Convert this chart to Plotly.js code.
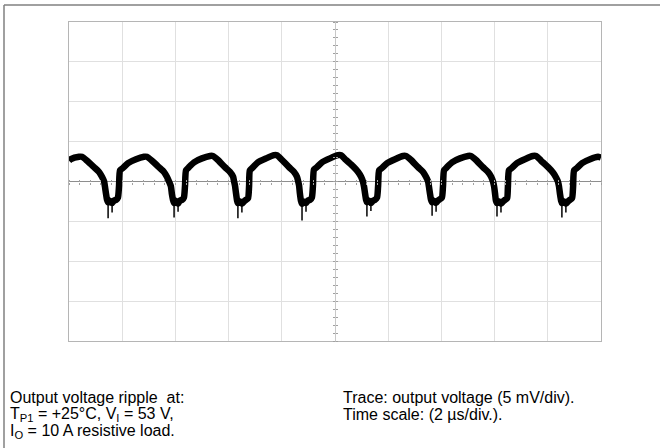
<!DOCTYPE html>
<html>
<head>
<meta charset="utf-8">
<script src="https://cdn.plot.ly/plotly-3.0.1.min.js"></script>
<style>html,body{margin:0;padding:0;background:#fff;}#chart{width:660px;height:448px;}</style>
</head>
<body>
<div id="chart"></div>
<script>
// Time (µs, 2 µs/div, trigger at centre) and output ripple (mV, 5 mV/div)
var time_us = [
-10.00,-9.93,-9.62,-9.51,-9.32,-9.06,-8.87,-8.76,-8.68,
-8.65,-8.61,-8.57,-8.53,-8.46,-8.38,-8.31,-8.23,-8.16,-8.12,-8.08,-7.97,-7.78,-7.48,-7.18,-7.07,-6.88,-6.62,-6.43,-6.32,-6.24,
-6.17,-6.13,-6.09,-6.05,-5.98,-5.90,-5.83,-5.75,-5.68,-5.64,-5.60,-5.49,-5.30,-5.00,-4.70,-4.59,-4.40,-4.14,-3.95,-3.83,-3.80,
-3.76,-3.72,-3.68,-3.65,-3.57,-3.50,-3.42,-3.35,-3.27,-3.23,-3.20,-3.08,-2.90,-2.59,-2.29,-2.18,-1.99,-1.73,-1.54,-1.43,-1.39,
-1.35,-1.32,-1.28,-1.24,-1.17,-1.09,-1.02,-0.94,-0.87,-0.83,-0.79,-0.68,-0.49,-0.19,0.11,0.23,0.41,0.68,0.87,0.98,1.05,
1.09,1.13,1.17,1.20,1.28,1.35,1.43,1.50,1.58,1.62,1.66,1.77,1.96,2.26,2.56,2.67,2.86,3.12,3.31,3.42,3.50,
3.53,3.57,3.61,3.65,3.72,3.80,3.87,3.95,4.02,4.06,4.10,4.21,4.40,4.70,5.00,5.11,5.30,5.56,5.75,5.87,5.94,
5.98,6.02,6.05,6.09,6.17,6.24,6.32,6.39,6.47,6.50,6.54,6.65,6.84,7.14,7.44,7.56,7.75,8.01,8.20,8.31,8.38,
8.42,8.46,8.50,8.53,8.61,8.68,8.76,8.83,8.91,8.95,8.99,9.10,9.29,9.59,9.89,10.00];
var ripple_mV = [
2.6,2.8,3.1,3.1,2.6,1.8,1.2,0.6,0.0,
-0.6,-1.5,-2.3,-2.6,-2.4,-2.7,-2.4,-2.3,-2.0,-0.6,1.4,1.7,2.3,2.8,3.1,3.1,2.6,1.8,1.2,0.6,0.0,
-0.6,-1.6,-2.3,-2.7,-2.4,-2.8,-2.4,-2.3,-2.0,-0.6,1.4,1.8,2.4,2.9,3.2,3.2,2.7,1.8,1.2,0.6,0.1,
-0.5,-1.5,-2.4,-2.7,-2.5,-2.8,-2.5,-2.3,-2.1,-0.6,1.4,1.8,2.4,2.9,3.3,3.3,2.7,1.8,1.2,0.6,0.1,
-0.5,-1.5,-2.4,-2.8,-2.5,-2.7,-2.4,-2.3,-2.0,-0.6,1.5,1.8,2.4,2.9,3.3,3.3,2.7,1.9,1.2,0.6,0.0,
-0.6,-1.5,-2.3,-2.6,-2.4,-2.7,-2.4,-2.3,-2.0,-0.6,1.4,1.7,2.3,2.8,3.2,3.2,2.7,1.8,1.2,0.6,0.0,
-0.6,-1.5,-2.3,-2.6,-2.4,-2.7,-2.4,-2.2,-2.0,-0.6,1.4,1.8,2.4,2.9,3.2,3.2,2.7,1.8,1.2,0.6,0.0,
-0.6,-1.6,-2.4,-2.7,-2.5,-2.8,-2.5,-2.3,-2.1,-0.7,1.4,1.7,2.3,2.8,3.2,3.2,2.6,1.8,1.1,0.5,0.0,
-0.6,-1.6,-2.4,-2.7,-2.5,-2.8,-2.5,-2.3,-2.1,-0.7,1.4,1.7,2.3,2.8,3.1,3.0];

// Thin noise spikes hanging below each dip (pairs separated by gaps)
var spike_t = [-8.53,-8.53,null,-8.38,-8.38,null,-6.05,-6.05,null,-5.90,-5.90,null,
  -3.65,-3.65,null,-3.50,-3.50,null,-1.24,-1.24,null,-1.09,-1.09,null,
  1.20,1.20,null,1.35,1.35,null,3.65,3.65,null,3.80,3.80,null,
  6.09,6.09,null,6.24,6.24,null,8.53,8.53,null,8.68,8.68,null];
var spike_mV = [-2.5,-4.6,null,-2.5,-3.9,null,-2.5,-4.5,null,-2.5,-3.8,null,
  -2.5,-4.6,null,-2.5,-3.9,null,-2.5,-4.9,null,-2.5,-3.8,null,
  -2.5,-4.4,null,-2.5,-3.7,null,-2.5,-4.3,null,-2.5,-3.8,null,
  -2.5,-4.4,null,-2.5,-3.9,null,-2.5,-4.5,null,-2.5,-3.9,null];

var x_range = [-10, 10];      // 10 divisions x 2 µs
var y_range = [-20, 20];      // 8 divisions x 5 mV
var x_div = 2, y_div = 5;

var caption_left = [
  "Output voltage ripple\u00a0 at:",
  "T<sub>P1</sub> = +25°C, V<sub>I</sub> = 53 V,",
  "I<sub>O</sub> = 10 A resistive load."
];
var caption_right = [
  "Trace: output voltage (5 mV/div).",
  "Time scale: (2 µs/div.)."
];

var W = 660, H = 448, L = 69, R = 59, T = 22, B = 107;
var pw = W - L - R, ph = H - T - B;
function px(X){ return (X - L) / pw; }
function py(Y){ return (H - B - Y) / ph; }

var traces = [
  {type:'scatter', mode:'lines', x:time_us, y:ripple_mV,
   line:{color:'#000', width:6.5, shape:'spline', smoothing:0.6}, hoverinfo:'skip', showlegend:false},
  {type:'scatter', mode:'lines', x:spike_t, y:spike_mV, connectgaps:false,
   line:{color:'#000', width:1.5}, hoverinfo:'skip', showlegend:false},
  {type:'scatter', mode:'lines', x:[null], y:[null], xaxis:'x2', yaxis:'y', showlegend:false, hoverinfo:'skip'},
  {type:'scatter', mode:'lines', x:[null], y:[null], xaxis:'x3', yaxis:'y', showlegend:false, hoverinfo:'skip'},
  {type:'scatter', mode:'lines', x:[null], y:[null], xaxis:'x', yaxis:'y2', showlegend:false, hoverinfo:'skip'},
  {type:'scatter', mode:'lines', x:[null], y:[null], xaxis:'x', yaxis:'y3', showlegend:false, hoverinfo:'skip'}
];

var fontFam = 'Liberation Sans, Arial, sans-serif';
var annotations = [];
var lineY = [397, 414, 431];
caption_left.forEach(function(t, i){
  annotations.push({xref:'paper', yref:'paper', x:px(8), y:py(lineY[i]), xanchor:'left', yanchor:'middle',
    text:t, showarrow:false, align:'left', font:{family:fontFam, size:16, color:'#000'}});
});
caption_right.forEach(function(t, i){
  annotations.push({xref:'paper', yref:'paper', x:px(341), y:py(lineY[i]), xanchor:'left', yanchor:'middle',
    text:t, showarrow:false, align:'left', font:{family:fontFam, size:16, color:'#000'}});
});

var tickAxX = function(side){ return {overlaying:'x', anchor:'free', position:0.5, side:side, range:x_range,
  showgrid:false, zeroline:false, showline:false, showticklabels:false, ticks:'outside', ticklen:2, tickwidth:1,
  tickcolor:'#a0a0a0', tick0:x_range[0], dtick:x_div/5}; };
var tickAxY = function(side){ return {overlaying:'y', anchor:'free', position:0.5, side:side, range:y_range,
  showgrid:false, zeroline:false, showline:false, showticklabels:false, ticks:'outside', ticklen:2, tickwidth:1,
  tickcolor:'#a0a0a0', tick0:y_range[0], dtick:y_div/5}; };

var layout = {
  width:W, height:H, margin:{l:L, r:R, t:T, b:B, pad:0},
  paper_bgcolor:'#fff', plot_bgcolor:'#fff', showlegend:false,
  font:{family:fontFam},
  xaxis:{range:x_range, tick0:x_range[0], dtick:x_div, showgrid:true, gridcolor:'#e0e0e0', gridwidth:1,
    zeroline:true, zerolinecolor:'#c8c8c8', zerolinewidth:1, showline:true, mirror:true, linecolor:'#b5b5b5', linewidth:1,
    showticklabels:false, ticks:'', fixedrange:true},
  yaxis:{range:y_range, tick0:y_range[0], dtick:y_div, showgrid:true, gridcolor:'#e0e0e0', gridwidth:1,
    zeroline:true, zerolinecolor:'#8e8e8e', zerolinewidth:1, showline:true, mirror:true, linecolor:'#b5b5b5', linewidth:1,
    showticklabels:false, ticks:'', fixedrange:true},
  xaxis2:tickAxX('bottom'), xaxis3:tickAxX('top'),
  yaxis2:tickAxY('left'), yaxis3:tickAxY('right'),
  shapes:[
    {type:'line', xref:'paper', yref:'paper', x0:px(4), x1:px(661), y0:py(5), y1:py(5), line:{color:'#808080', width:1.5}},
    {type:'line', xref:'paper', yref:'paper', x0:px(4), x1:px(4), y0:py(5), y1:py(449), line:{color:'#808080', width:1.5}}
  ],
  annotations:annotations
};

Plotly.newPlot('chart', traces, layout, {staticPlot:true, displayModeBar:false});
</script>
</body>
</html>
